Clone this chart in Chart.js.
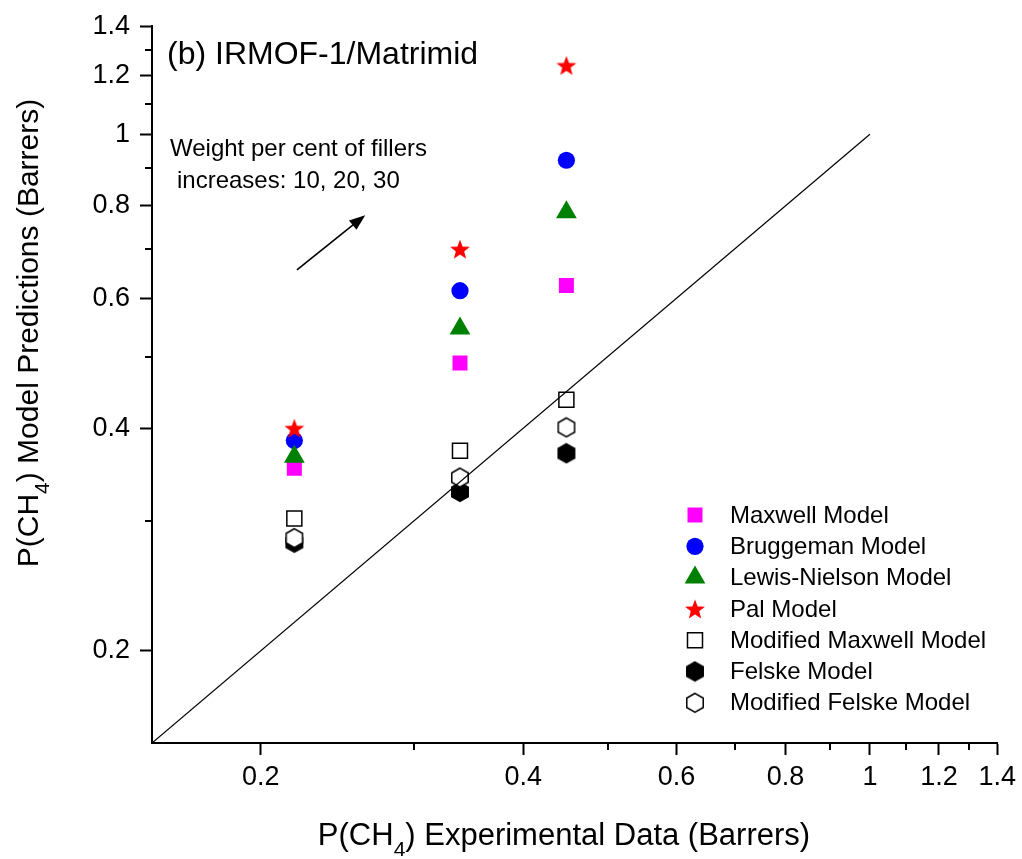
<!DOCTYPE html>
<html>
<head>
<meta charset="utf-8">
<script src="https://cdn.jsdelivr.net/npm/chart.js@4.4.1/dist/chart.umd.min.js"></script>
<style>
  html, body { margin: 0; padding: 0; background: #fff; }
  #wrap { width: 1022px; height: 859px; }
</style>
</head>
<body>
<div id="wrap"><canvas id="perm__chart" width="1022" height="859"></canvas></div>
<script>
// experimental CH4 permeability, 10 / 20 / 30 wt% filler
var expData = [0.2185, 0.3385, 0.4484];

// model predictions
var maxwell      = [0.353, 0.490, 0.624];
var bruggeman    = [0.385, 0.614, 0.922];
var lewisNielson = [0.366, 0.546, 0.784];
var pal          = [0.400, 0.699, 1.239];
var modMaxwell   = [0.302, 0.373, 0.437];
var felske       = [0.280, 0.328, 0.370];
var modFelske    = [0.284, 0.343, 0.401];

var seriesNames = ['Maxwell Model', 'Bruggeman Model', 'Lewis-Nielson Model', 'Pal Model',
    'Modified Maxwell Model', 'Felske Model', 'Modified Felske Model'];

var axisMin = 0.15, axisMax = 1.4;
var majorTicks = [0.2, 0.4, 0.6, 0.8, 1, 1.2, 1.4];
var minorTicks = [0.3, 0.5, 0.7, 0.9, 1.1, 1.3];
var parityLine = [0.15, 1];

// arrow annotation, in data units: [x0, y0, x1, y1]
var arrowPts = [0.22, 0.655, 0.2635, 0.777];

var FONT = "'Liberation Sans', Arial, sans-serif";

function pts(ys) {
    return expData.map(function (x, i) { return { x: x, y: ys[i] }; });
}

function hexMarker(filled) {
    var c = document.createElement('canvas');
    c.width = 22; c.height = 22;
    var g = c.getContext('2d');
    var r = 9.5;
    g.beginPath();
    for (var i = 0; i < 6; i++) {
        var a = Math.PI / 2 + i * Math.PI / 3;
        var px = 11 + r * Math.cos(a), py = 11 - r * Math.sin(a);
        if (i === 0) g.moveTo(px, py); else g.lineTo(px, py);
    }
    g.closePath();
    g.fillStyle = filled ? '#000' : '#fff';
    g.fill();
    g.lineWidth = 1.5;
    g.strokeStyle = '#000';
    g.stroke();
    return c;
}

function starMarker() {
    var c = document.createElement('canvas');
    c.width = 24; c.height = 24;
    var g = c.getContext('2d');
    var R = 10.5, r = 4.4, cx = 12, cy = 13;
    g.beginPath();
    for (var i = 0; i < 10; i++) {
        var rad = (i % 2) ? r : R;
        var a = -Math.PI / 2 + i * Math.PI / 5;
        var px = cx + rad * Math.cos(a), py = cy + rad * Math.sin(a);
        if (i === 0) g.moveTo(px, py); else g.lineTo(px, py);
    }
    g.closePath();
    g.fillStyle = '#ff0000';
    g.fill();
    return c;
}

var hexFilled = hexMarker(true);
var hexOpen = hexMarker(false);
var star = starMarker();

// order: higher = drawn earlier (underneath)
var datasets = [
    { label: seriesNames[0], data: pts(maxwell), pointStyle: 'rect', pointRadius: 10.6,
      backgroundColor: '#ff00ff', borderColor: '#ff00ff', borderWidth: 0, order: 7 },
    { label: seriesNames[1], data: pts(bruggeman), pointStyle: 'circle', pointRadius: 8.6,
      backgroundColor: '#0000ff', borderColor: '#0000ff', borderWidth: 0, order: 6 },
    { label: seriesNames[2], data: pts(lewisNielson), pointStyle: 'triangle', pointRadius: 12,
      backgroundColor: '#008000', borderColor: '#008000', borderWidth: 0, order: 5 },
    { label: seriesNames[3], data: pts(pal), pointStyle: star, pointRadius: 10,
      backgroundColor: '#ff0000', borderColor: '#ff0000', borderWidth: 0, order: 4 },
    { label: seriesNames[4], data: pts(modMaxwell), pointStyle: 'rect', pointRadius: 10.6,
      backgroundColor: '#ffffff', borderColor: '#000000', borderWidth: 1.5, order: 3 },
    { label: seriesNames[5], data: pts(felske), pointStyle: hexFilled, pointRadius: 10,
      backgroundColor: '#000', borderColor: '#000', borderWidth: 0, order: 2 },
    { label: seriesNames[6], data: pts(modFelske), pointStyle: hexOpen, pointRadius: 10,
      backgroundColor: '#fff', borderColor: '#000', borderWidth: 0, order: 1 },
    { label: 'y = x', data: parityLine.map(function (v) { return { x: v, y: v }; }),
      showLine: true, pointRadius: 0, borderColor: '#000', borderWidth: 1.2, order: 0 }
];

function drawParts(g, parts, cx, cy, rotate) {
    g.save();
    g.translate(cx, cy);
    if (rotate) g.rotate(-Math.PI / 2);
    var total = 0;
    parts.forEach(function (p) { g.font = p.size + 'px ' + FONT; total += g.measureText(p.text).width; });
    var x = -total / 2;
    g.textBaseline = 'alphabetic';
    g.textAlign = 'left';
    g.fillStyle = '#000';
    parts.forEach(function (p) {
        g.font = p.size + 'px ' + FONT;
        g.fillText(p.text, x, p.dy || 0);
        x += g.measureText(p.text).width;
    });
    g.restore();
}

var extras = {
    id: 'extras',
    afterDraw: function (chart) {
        var g = chart.ctx, area = chart.chartArea;
        var xs = chart.scales.x, ys = chart.scales.y;

        // minor ticks
        g.save();
        g.strokeStyle = '#000';
        g.lineWidth = 2;
        minorTicks.forEach(function (v) {
            var px = Math.round(xs.getPixelForValue(v));
            g.beginPath(); g.moveTo(px, area.bottom); g.lineTo(px, area.bottom + 7); g.stroke();
            var py = Math.round(ys.getPixelForValue(v));
            g.beginPath(); g.moveTo(area.left, py); g.lineTo(area.left - 7, py); g.stroke();
        });
        g.restore();

        // axis titles
        drawParts(g, [
            { text: 'P(CH', size: 31 },
            { text: '4', size: 21, dy: 11 },
            { text: ') Experimental Data (Barrers)', size: 31 }
        ], 564, 845, false);
        drawParts(g, [
            { text: 'P(CH', size: 30 },
            { text: '4', size: 21, dy: 11 },
            { text: ') Model Predictions (Barrers)', size: 30 }
        ], 38, 333, true);

        // panel label and note
        g.save();
        g.fillStyle = '#000';
        g.textAlign = 'left';
        g.textBaseline = 'alphabetic';
        g.font = '32px ' + FONT;
        g.fillText('(b) IRMOF-1/Matrimid', area.left + 15, area.top + 38);
        g.font = '24px ' + FONT;
        g.fillText('Weight per cent of fillers', area.left + 18, area.top + 130);
        g.fillText('increases: 10, 20, 30', area.left + 25, area.top + 162);
        g.restore();

        // arrow
        var x0 = xs.getPixelForValue(arrowPts[0]), y0 = ys.getPixelForValue(arrowPts[1]);
        var x1 = xs.getPixelForValue(arrowPts[2]), y1 = ys.getPixelForValue(arrowPts[3]);
        var ang = Math.atan2(y1 - y0, x1 - x0);
        var hl = 16, hw = 6;
        g.save();
        g.strokeStyle = '#000';
        g.fillStyle = '#000';
        g.lineWidth = 1.6;
        g.beginPath();
        g.moveTo(x0, y0);
        g.lineTo(x1 - 10 * Math.cos(ang), y1 - 10 * Math.sin(ang));
        g.stroke();
        g.beginPath();
        g.moveTo(x1, y1);
        g.lineTo(x1 - hl * Math.cos(ang) + hw * Math.sin(ang), y1 - hl * Math.sin(ang) - hw * Math.cos(ang));
        g.lineTo(x1 - hl * Math.cos(ang) - hw * Math.sin(ang), y1 - hl * Math.sin(ang) + hw * Math.cos(ang));
        g.closePath();
        g.fill();
        g.restore();

        // legend
        var lx = 695, ly = 515, step = 31.3;
        g.save();
        for (var i = 0; i < seriesNames.length; i++) {
            var ds = chart.data.datasets[i];
            var yy = ly + i * step;
            g.fillStyle = ds.backgroundColor;
            g.strokeStyle = ds.borderColor;
            g.lineWidth = ds.borderWidth;
            Chart.helpers.drawPoint(g, {
                pointStyle: ds.pointStyle, radius: ds.pointRadius,
                borderWidth: ds.borderWidth, rotation: 0
            }, lx, yy);
            g.fillStyle = '#000';
            g.font = '24px ' + FONT;
            g.textAlign = 'left';
            g.textBaseline = 'middle';
            g.fillText(seriesNames[i], 730, yy + 1);
        }
        g.restore();
    }
};

function axisCfg(isX) {
    return {
        type: 'logarithmic',
        min: axisMin,
        max: axisMax,
        afterBuildTicks: function (scale) {
            scale.ticks = majorTicks.map(function (v) { return { value: v }; });
        },
        afterFit: function (scale) {
            if (isX) scale.height = 116; else scale.width = 152;
        },
        ticks: {
            autoSkip: false,
            maxRotation: 0,
            padding: isX ? 6 : 10,
            color: '#000',
            font: { family: FONT, size: 27 },
            callback: function (v) { return String(v); }
        },
        grid: {
            drawOnChartArea: false,
            drawTicks: true,
            tickLength: 12,
            tickWidth: 2,
            tickColor: '#000'
        },
        border: { display: true, color: '#000', width: 2 }
    };
}

var ctx = document.getElementById('perm__chart');
var perm__chart = new Chart(ctx, {
    type: 'scatter',
    data: { datasets: datasets },
    options: {
        responsive: false,
        animation: false,
        events: [],
        layout: { padding: { left: 0, right: 23, top: 25, bottom: 0 } },
        plugins: { legend: { display: false }, tooltip: { enabled: false } },
        scales: { x: axisCfg(true), y: axisCfg(false) }
    },
    plugins: [extras]
});
</script>
</body>
</html>
